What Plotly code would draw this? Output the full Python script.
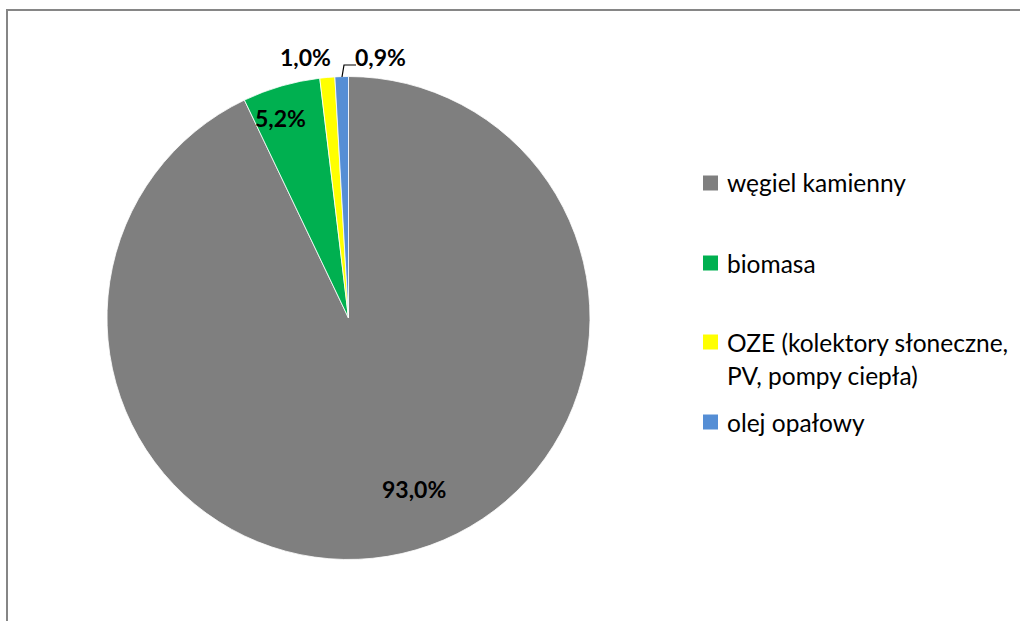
import plotly.graph_objects as go

# ---- data ----
categories = ["węgiel kamienny", "biomasa", "OZE (kolektory słoneczne,<br>PV, pompy ciepła)", "olej opałowy"]
legend_lines = [["węgiel kamienny"], ["biomasa"], ["OZE (kolektory słoneczne,", "PV, pompy ciepła)"], ["olej opałowy"]]
values = [93.0, 5.2, 1.0, 0.9]
value_labels = ["93,0%", "5,2%", "1,0%", "0,9%"]
colors = ["#7F7F7F", "#00B050", "#FFFF00", "#558ED5"]

W, H = 1020, 621
def px(x):
    return x / W
def py(y):
    return 1 - y / H

FONT = "Lato, 'Open Sans', sans-serif"

cx, cy, R = 348.5, 318, 241.5

fig = go.Figure(go.Pie(
    labels=categories,
    values=values,
    marker=dict(colors=colors, line=dict(color="white", width=0.8)),
    sort=False,
    direction="clockwise",
    rotation=0,
    textinfo="none",
    hoverinfo="label+value",
    showlegend=False,
    domain=dict(x=[px(cx - R), px(cx + R)], y=[py(cy + R), py(cy - R)]),
))

# data labels (positions like the original, text from data)
label_pos = [(414, 489), (280, 118), (305, 57), (380, 57)]
annotations = []
for t, (lx, ly) in zip(value_labels, label_pos):
    annotations.append(dict(x=px(lx), y=py(ly), xref="paper", yref="paper",
                            text=f"<b>{t}</b>", showarrow=False,
                            font=dict(family=FONT, size=23, color="black"),
                            xanchor="center", yanchor="middle"))

shapes = []
# leader line for the smallest slice
shapes.append(dict(type="path", xref="paper", yref="paper",
                   path=f"M {px(342)} {py(77)} L {px(344)} {py(65)} L {px(356)} {py(65)}",
                   line=dict(color="black", width=1.2)))

# manual legend
legend_y = [183, 263, 342, 422]
for lines, c, yy in zip(legend_lines, colors, legend_y):
    shapes.append(dict(type="rect", xref="paper", yref="paper",
                       x0=px(703), x1=px(718), y0=py(yy - 7.5), y1=py(yy + 7.5),
                       fillcolor=c, line=dict(width=0)))
    for i, ln in enumerate(lines):
        annotations.append(dict(x=px(725), y=py(yy + i * 33), xref="paper", yref="paper",
                                text=ln, showarrow=False,
                                font=dict(family=FONT, size=24.5, color="black"),
                                xanchor="left", yanchor="middle"))

# outer chart border
shapes.append(dict(type="rect", xref="paper", yref="paper",
                   x0=px(7), x1=px(W + 10), y0=py(H + 10), y1=py(10),
                   line=dict(color="#868686", width=2), fillcolor="rgba(0,0,0,0)"))

fig.update_layout(
    width=W, height=H,
    margin=dict(l=0, r=0, t=0, b=0),
    paper_bgcolor="white",
    plot_bgcolor="white",
    annotations=annotations,
    shapes=shapes,
)

fig.write_html("out.html",
               config={"displayModeBar": False},
               post_script="document.body.style.margin='0';document.body.style.overflow='hidden';")
